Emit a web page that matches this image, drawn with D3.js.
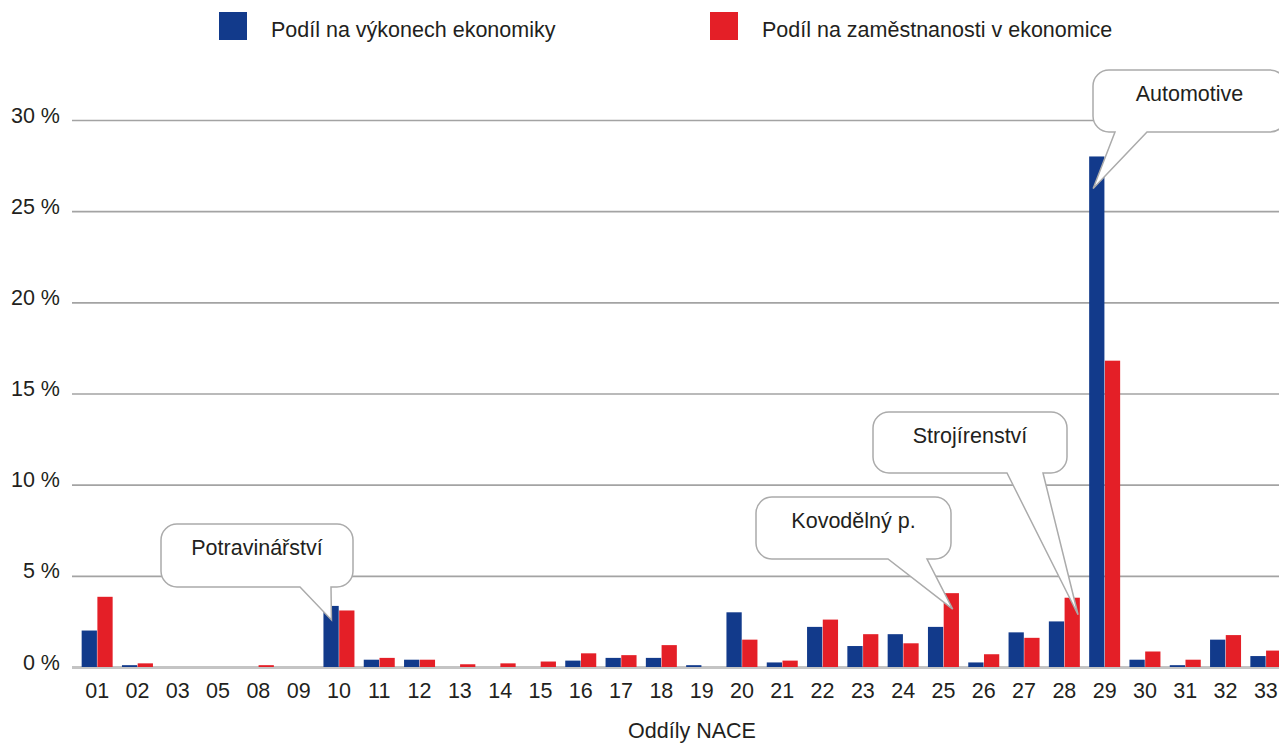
<!DOCTYPE html>
<html>
<head>
<meta charset="utf-8">
<script src="https://cdn.jsdelivr.net/npm/d3@7/dist/d3.min.js"></script>
<style>
  html, body { margin: 0; padding: 0; background: #fff; }
  svg { display: block; font-family: "Liberation Sans", Arial, Helvetica, sans-serif; }
</style>
</head>
<body>
<svg id="chart" width="1279" height="744"></svg>
<script>
// ---- data ----
const categories = ["01","02","03","05","08","09","10","11","12","13","14","15","16","17","18","19","20","21","22","23","24","25","26","27","28","29","30","31","32","33"];
const seriesNames = ["Podíl na výkonech ekonomiky", "Podíl na zaměstnanosti v ekonomice"];
const outputShare = [2.0,0.1,0,0,0,0,3.35,0.4,0.4,0,0,0,0.35,0.5,0.5,0.1,3.0,0.25,2.2,1.15,1.8,2.2,0.25,1.9,2.5,28.0,0.4,0.1,1.5,0.6];
const employmentShare = [3.85,0.2,0,0,0.1,0,3.1,0.5,0.4,0.15,0.2,0.3,0.75,0.65,1.2,0,1.5,0.35,2.6,1.8,1.3,4.05,0.7,1.6,3.8,16.8,0.85,0.4,1.75,0.9];
const yTicks = [0,5,10,15,20,25,30];
const xTitle = "Oddíly NACE";
const calloutLabels = ["Potravinářství", "Kovodělný p.", "Strojírenství", "Automotive"];
const calloutCategories = ["10", "25", "28", "29"];
const calloutSeries = [0, 1, 1, 0];

// ---- layout ----
const W = 1279, H = 744;
const colors = ["#123a8b", "#e41f27"];
const textColor = "#231f20";
const fontSize = 21.5;

const svg = d3.select("#chart");

const x0 = d3.scaleBand().domain(categories).range([77, 1286]).paddingInner(0.231).paddingOuter(0.1155);
const x1 = d3.scaleBand().domain([0, 1]).range([0, x0.bandwidth()]).paddingInner(0.03);
const y = d3.scaleLinear().domain([0, 30]).range([667, 120]);

// gridlines + y labels
const gridLeft = 72;
const yAxis = d3.axisLeft(y)
  .tickValues(yTicks)
  .tickSize(-(W - gridLeft + 10))
  .tickPadding(12)
  .tickFormat(d => d + " %");
const gy = svg.append("g").attr("transform", `translate(${gridLeft},0)`).call(yAxis);
gy.select(".domain").remove();
gy.selectAll(".tick line")
  .attr("stroke", d => d === 0 ? "#c4c4c4" : "#a3a3a3")
  .attr("stroke-width", d => d === 0 ? 3 : 1.6);
gy.selectAll(".tick text")
  .attr("fill", textColor)
  .attr("font-size", fontSize)
  .attr("font-family", "Liberation Sans, Arial, sans-serif")
  .attr("dy", "0.1em");

// bars
const rows = categories.map((c, i) => ({ cat: c, vals: [outputShare[i], employmentShare[i]] }));
const groups = svg.append("g").selectAll("g").data(rows).join("g")
  .attr("transform", d => `translate(${x0(d.cat)},0)`);
groups.selectAll("rect").data(d => d.vals.map((v, k) => ({ v, k }))).join("rect")
  .attr("x", d => x1(d.k))
  .attr("width", x1.bandwidth())
  .attr("y", d => y(d.v))
  .attr("height", d => y(0) - y(d.v))
  .attr("fill", d => colors[d.k]);

// x axis labels
const xAxis = d3.axisBottom(x0).tickSize(0).tickPadding(16);
const gx = svg.append("g").attr("transform", `translate(0,${y(0)})`).call(xAxis);
gx.select(".domain").remove();
gx.selectAll(".tick text")
  .attr("fill", textColor)
  .attr("font-size", fontSize)
  .attr("font-family", "Liberation Sans, Arial, sans-serif");

// axis title
svg.append("text")
  .attr("x", 692).attr("y", 738)
  .attr("text-anchor", "middle")
  .attr("fill", textColor)
  .attr("font-size", fontSize)
  .text(xTitle);

// legend
const legendX = [219, 710];
seriesNames.forEach((name, k) => {
  svg.append("rect").attr("x", legendX[k]).attr("y", 12).attr("width", 28).attr("height", 28).attr("fill", colors[k]);
  svg.append("text").attr("x", legendX[k] + 52).attr("y", 37)
    .attr("fill", textColor).attr("font-size", fontSize).text(name);
});

// callouts (box layout: left, top, width, height, tail base left, tail base right, tip offset dx, dy)
const calloutBoxes = [
  [161, 524, 192, 63, 300, 331, 8, 14],
  [756, 497, 195, 62, 888, 927, 9, 16],
  [873, 412, 194, 61, 1007, 1043, 13.5, 17],
  [1093, 70, 193, 62, 1115, 1147, 4, 32]
];
const r = 16;
calloutLabels.forEach((label, i) => {
  const [bx, by, bw, bh, ta, tb, dx, dy] = calloutBoxes[i];
  const cat = calloutCategories[i];
  const k = calloutSeries[i];
  const ci = categories.indexOf(cat);
  const v = k === 0 ? outputShare[ci] : employmentShare[ci];
  const tx = x0(cat) + x1(k) + dx;
  const ty = y(v) + dy;
  const p = d3.path();
  p.moveTo(bx + r, by);
  p.lineTo(bx + bw - r, by);
  p.arcTo(bx + bw, by, bx + bw, by + r, r);
  p.lineTo(bx + bw, by + bh - r);
  p.arcTo(bx + bw, by + bh, bx + bw - r, by + bh, r);
  p.lineTo(tb, by + bh);
  p.lineTo(tx, ty);
  p.lineTo(ta, by + bh);
  p.lineTo(bx + r, by + bh);
  p.arcTo(bx, by + bh, bx, by + bh - r, r);
  p.lineTo(bx, by + r);
  p.arcTo(bx, by, bx + r, by, r);
  p.closePath();
  svg.append("path").attr("d", p.toString())
    .attr("fill", "#fff").attr("stroke", "#ababab").attr("stroke-width", 1.5);
  svg.append("text")
    .attr("x", bx + bw / 2).attr("y", by + 31)
    .attr("text-anchor", "middle")
    .attr("fill", textColor).attr("font-size", fontSize)
    .text(label);
});
</script>
</body>
</html>
